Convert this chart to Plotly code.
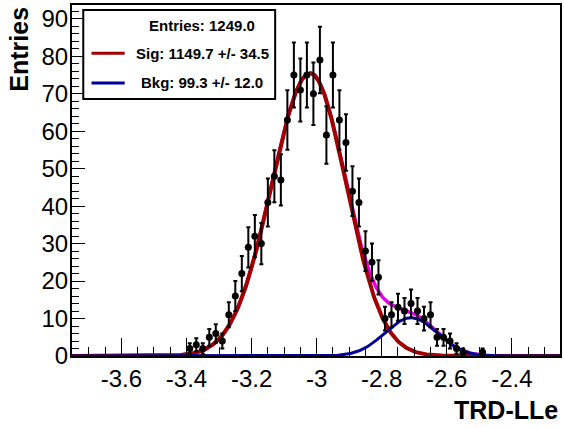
import numpy as np
import plotly.graph_objects as go

# ---- data ----
bin_centers = [-3.39, -3.37, -3.35, -3.33, -3.31, -3.29, -3.27, -3.25, -3.23, -3.21,
               -3.19, -3.17, -3.15, -3.13, -3.11, -3.09, -3.07, -3.05, -3.03, -3.01,
               -2.99, -2.97, -2.95, -2.93, -2.91, -2.89, -2.87, -2.85, -2.83, -2.81,
               -2.79, -2.77, -2.75, -2.73, -2.71, -2.69, -2.67, -2.65, -2.63, -2.61,
               -2.59, -2.57, -2.55, -2.49]
counts = [2, 3, 2, 5, 6, 4, 11, 16, 22, 29,
          32, 30, 41, 48, 47, 63, 75, 71, 75, 70,
          79, 59, 75, 63, 57, 44, 41, 28, 25, 21,
          10, 11, 13, 12, 14, 12, 10, 11, 5, 5,
          4, 2, 1, 1]

# fit model parameters (signal: bifurcated gaussian, background: gaussian)
sig_mean = -3.02
sig_sigma_left = 0.118
sig_sigma_right = 0.111
sig_peak = 75.5
bkg_mean = -2.71
bkg_sigma = 0.080
bkg_peak = 10.2

x_range = [-3.752, -2.252]
y_range = [0, 93.7]
x_tickvals = [-3.6, -3.4, -3.2, -3.0, -2.8, -2.6, -2.4]
x_ticktext = ["-3.6", "-3.4", "-3.2", "-3", "-2.8", "-2.6", "-2.4"]
y_tickvals = [0, 10, 20, 30, 40, 50, 60, 70, 80, 90]
legend_lines = ["Entries: 1249.0", "Sig: 1149.7 +/- 34.5", "Bkg: 99.3 +/- 12.0"]

# ---- model curves ----
xs = np.linspace(x_range[0], x_range[1], 800)
sig_w = np.where(xs < sig_mean, sig_sigma_left, sig_sigma_right)
sig = sig_peak * np.exp(-0.5 * ((xs - sig_mean) / sig_w) ** 2)
bkg = bkg_peak * np.exp(-0.5 * ((xs - bkg_mean) / bkg_sigma) ** 2)
tot = sig + bkg

errs = np.sqrt(np.array(counts, dtype=float))

RED = "#a00000"
BLUE = "#000099"
MAG = "#e600e6"
FONT = "Liberation Sans, Arial, Helvetica, sans-serif"

fig = go.Figure()
fig.add_trace(go.Scatter(x=xs, y=tot, mode="lines", line=dict(color=MAG, width=3.5), hoverinfo="skip"))
fig.add_trace(go.Scatter(x=xs, y=sig, mode="lines", line=dict(color=RED, width=4), hoverinfo="skip"))
fig.add_trace(go.Scatter(x=xs, y=bkg, mode="lines", line=dict(color=BLUE, width=3), hoverinfo="skip"))
fig.add_trace(go.Scatter(
    x=bin_centers, y=counts, mode="markers",
    marker=dict(color="black", size=7, symbol="circle"),
    error_y=dict(type="data", array=errs, visible=True, color="black", thickness=2, width=2),
))

fig.update_layout(
    width=564, height=428,
    margin=dict(l=72, r=2, t=5, b=72),
    paper_bgcolor="white", plot_bgcolor="white",
    showlegend=False,
    font=dict(family=FONT, color="black"),
)
fig.update_xaxes(
    range=x_range, showgrid=False, zeroline=False,
    showline=True, linecolor="black", linewidth=2, mirror=True,
    ticks="inside", ticklen=18, tickwidth=1.2, tickcolor="black",
    tickvals=x_tickvals, ticktext=x_ticktext,
    tickfont=dict(size=24, family=FONT),
    minor=dict(ticks="inside", ticklen=9, dtick=0.05, tick0=-3.6, tickwidth=1.2, tickcolor="black"),
)
fig.update_yaxes(
    range=y_range, showgrid=False, zeroline=False,
    showline=True, linecolor="black", linewidth=2, mirror=True,
    ticks="inside", ticklen=13, tickwidth=1.2, tickcolor="black",
    tickvals=y_tickvals, ticklabelstandoff=-3,
    tickfont=dict(size=24, family=FONT),
    minor=dict(ticks="inside", ticklen=7, dtick=2, tick0=0, tickwidth=1.2, tickcolor="black"),
)

# legend box
fig.add_shape(type="rect", xref="paper", yref="paper",
              x0=0.0231, x1=0.4163, y0=0.7322, y1=0.9858,
              line=dict(color="black", width=2), fillcolor="white", layer="above")
fig.add_shape(type="line", xref="paper", yref="paper", x0=0.040, x1=0.108, y0=0.8624, y1=0.8624,
              line=dict(color=RED, width=3), layer="above")
fig.add_shape(type="line", xref="paper", yref="paper", x0=0.040, x1=0.108, y0=0.7778, y1=0.7778,
              line=dict(color=BLUE, width=3), layer="above")
for txt, yy in zip(legend_lines, [0.943, 0.863, 0.778]):
    fig.add_annotation(text="<b>%s</b>" % txt, xref="paper", yref="paper", x=0.2673, y=yy,
                       xanchor="center", yanchor="middle", showarrow=False,
                       font=dict(size=15, family=FONT, color="black"))

# axis titles
fig.add_annotation(text="<b>TRD-LLe</b>", xref="paper", yref="paper", x=1.0, y=-0.155,
                   xanchor="right", yanchor="middle", showarrow=False,
                   font=dict(size=25, family=FONT, color="black"))
fig.add_annotation(text="<b>Entries</b>", xref="paper", yref="paper", x=(18 - 72) / 490, y=1.0,
                   xanchor="center", yanchor="top", textangle=-90, showarrow=False,
                   font=dict(size=25, family=FONT, color="black"))

fig.write_html("out.html")
